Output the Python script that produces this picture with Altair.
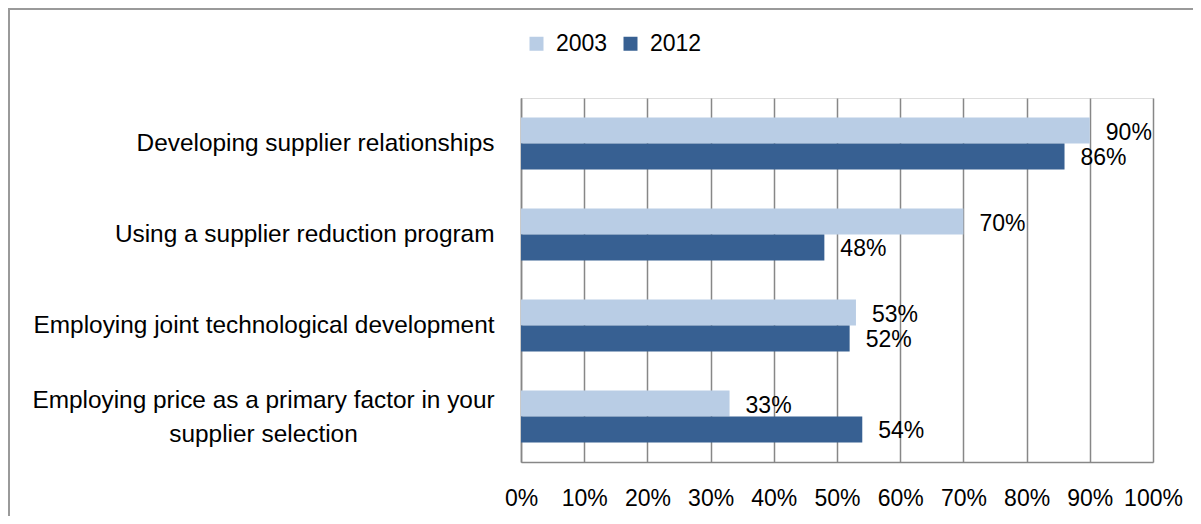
import altair as alt
import pandas as pd

categories = [
    "Developing supplier relationships",
    "Using a supplier reduction program",
    "Employing joint technological development",
    "Employing price as a primary factor in your supplier selection",
]
values_2003 = [0.90, 0.70, 0.53, 0.33]
values_2012 = [0.86, 0.48, 0.52, 0.54]
years = ["2003", "2012"]
colors = ["#B9CDE5", "#376092"]
x_ticks = [0.0, 0.1, 0.2, 0.3, 0.4, 0.5, 0.6, 0.7, 0.8, 0.9, 1.0]

rows = []
for c, a, b in zip(categories, values_2003, values_2012):
    rows.append({"category": c, "year": years[0], "value": a})
    rows.append({"category": c, "year": years[1], "value": b})
df = pd.DataFrame(rows)

FONT = "Liberation Sans"
W, H = 632, 364
PAD_L, PAD_T, PAD_R, PAD_B = 513, 90, 40, 54
long_cat = categories[3]
is_long = f"datum.value == '{long_cat}'"

y_enc = alt.Y(
    "category:N",
    sort=categories,
    scale=alt.Scale(paddingInner=0.4286, paddingOuter=0.2143),
    axis=alt.Axis(
        title=None,
        ticks=False,
        domain=True,
        domainColor="#878787",
        domainWidth=1.5,
        labelFont=FONT,
        labelFontSize=24.4,
        labelColor="#000000",
        labelLimit=600,
        labelLineHeight=34,
        labelAlign={"condition": {"test": is_long, "value": "center"}, "value": "right"},
        labelPadding={"condition": {"test": is_long, "value": 258}, "value": 27},
        labelOffset={"condition": {"test": is_long, "value": -16}, "value": 0},
        labelExpr=f"{is_long} ? ['Employing price as a primary factor in your', 'supplier selection'] : datum.value",
    ),
)

x_enc = alt.X(
    "value:Q",
    scale=alt.Scale(domain=[0, 1], nice=False),
    axis=alt.Axis(
        title=None,
        values=x_ticks,
        format=".0%",
        grid=True,
        gridColor="#878787",
        gridWidth=1.5,
        domain=True,
        domainColor="#878787",
        domainWidth=1.5,
        ticks=False,
        labelFont=FONT,
        labelFontSize=23,
        labelColor="#000000",
        labelPadding=25,
        labelFlush=False,
    ),
)

base = alt.Chart(df)

bars = base.mark_bar().encode(
    y=y_enc,
    x=x_enc,
    yOffset=alt.YOffset("year:N", sort=years, scale=alt.Scale(paddingInner=0, paddingOuter=0)),
    color=alt.Color(
        "year:N",
        scale=alt.Scale(domain=years, range=colors),
        legend=alt.Legend(
            title=None,
            orient="none",
            direction="horizontal",
            legendX=4,
            legendY=-66,
            symbolType="square",
            symbolSize=196,
            symbolStrokeWidth=0,
            labelFont=FONT,
            labelFontSize=23,
            labelColor="#000000",
            labelOffset=8,
            columnPadding=11,
            padding=0,
        ),
    ),
)

labels = base.mark_text(
    align="left", baseline="middle", dx=16, dy=2, font=FONT, fontSize=23, color="#000000"
).encode(
    y=alt.Y("category:N", sort=categories),
    x="value:Q",
    yOffset=alt.YOffset("year:N", sort=years),
    text=alt.Text("value:Q", format=".0%"),
)

frame_df = pd.DataFrame({"k": [0]})
top_line = alt.Chart(frame_df).mark_rule(color="#9a9a9a", strokeWidth=2).encode(
    x=alt.value(-PAD_L), x2=alt.value(W + PAD_R), y=alt.value(-PAD_T + 1)
)
left_line = alt.Chart(frame_df).mark_rule(color="#9a9a9a", strokeWidth=2).encode(
    x=alt.value(-PAD_L + 1), y=alt.value(-PAD_T), y2=alt.value(H + PAD_B)
)

chart = alt.layer(bars, labels, top_line, left_line).properties(
    width=W,
    height=H,
    autosize=alt.AutoSizeParams(type="none"),
    padding={"left": PAD_L, "top": PAD_T, "right": PAD_R, "bottom": PAD_B},
).configure_view(stroke=None).configure(background="#ffffff")

chart.save("out.html", embed_options={"renderer": "svg", "actions": False})
